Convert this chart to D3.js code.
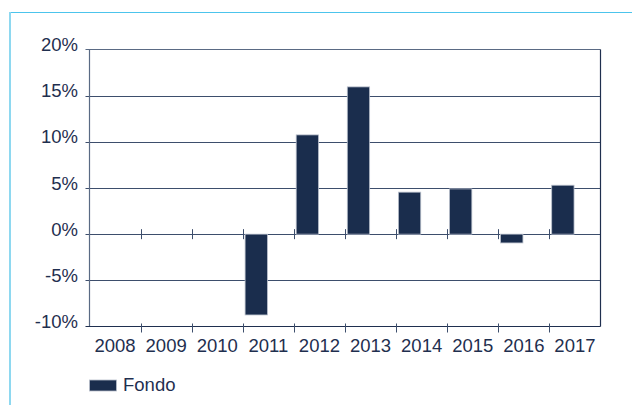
<!DOCTYPE html>
<html><head><meta charset="utf-8">
<script src="https://cdn.jsdelivr.net/npm/d3@7"></script>
<style>body{margin:0;background:#fff}svg{display:block}text{font-family:"Liberation Sans",Arial,sans-serif;fill:#1f2f4f}</style>
</head><body><svg id="c" width="632" height="405"></svg>
<script>
const years = ["2008","2009","2010","2011","2012","2013","2014","2015","2016","2017"];
const fondo = [null,null,null,-8.75,10.75,15.95,4.55,4.9,-0.95,5.3];
const yTicks = [-10,-5,0,5,10,15,20];
const seriesName = "Fondo";

const svg = d3.select("#c");
const L=89.5,R=600.5,T=49.5,B=326.5;
const x = d3.scaleBand().domain(years).range([L,R]).padding(0);
const y = d3.scaleLinear().domain([-10,20]).range([B,T]);

// outer light-blue frame
svg.append("line").attr("x1",9).attr("x2",632).attr("y1",12.5).attr("y2",12.5).attr("stroke","#4cc4ec").attr("stroke-width",1.2);
svg.append("line").attr("x1",10).attr("x2",10).attr("y1",12).attr("y2",405).attr("stroke","#8ed8f0").attr("stroke-width",2);

// gridlines
const grid = svg.append("g");
yTicks.filter(v=>v>-10 && v<20).forEach(v=>{
  grid.append("line").attr("x1",L-4).attr("x2",R).attr("y1",Math.round(y(v))+0.5).attr("y2",Math.round(y(v))+0.5)
    .attr("stroke", "#3d4e6c").attr("stroke-width",1.2);
});
// frame
svg.append("line").attr("x1",L-4).attr("x2",R).attr("y1",T).attr("y2",T).attr("stroke","#5a6a84").attr("stroke-width",1.2);
svg.append("line").attr("x1",L).attr("x2",L).attr("y1",T).attr("y2",B).attr("stroke","#5a6a84").attr("stroke-width",1.2);
svg.append("line").attr("x1",R).attr("x2",R).attr("y1",T).attr("y2",B).attr("stroke","#1f2f4f").attr("stroke-width",1.2);
svg.append("line").attr("x1",L-4).attr("x2",R).attr("y1",B).attr("y2",B).attr("stroke","#1f2f4f").attr("stroke-width",1.2);

// y labels
svg.append("g").selectAll("text").data(yTicks).join("text")
  .attr("x",78).attr("y",d=>y(d)+1.5).attr("text-anchor","end").attr("font-size",18.5).text(d=>d+"%");

// bars
const bw = x.bandwidth();
svg.append("g").selectAll("rect").data(years.map((yr,i)=>({yr,v:fondo[i]})).filter(d=>d.v!=null)).join("rect")
  .attr("x",d=>x(d.yr)+bw*0.045).attr("width",bw*0.437)
  .attr("y",d=>y(Math.max(0,d.v))).attr("height",d=>Math.abs(y(d.v)-y(0)))
  .attr("fill","#1a2d4d").attr("stroke","#b8bfcb").attr("stroke-width",0.8);

// category ticks on zero line and bottom
const bounds = years.slice(1).map(d=>x(d));
svg.append("g").selectAll("line").data(bounds).join("line")
  .attr("x1",d=>Math.round(d)+0.5).attr("x2",d=>Math.round(d)+0.5).attr("y1",y(0)-5).attr("y2",y(0)+5).attr("stroke","#3d4e6c");
svg.append("g").selectAll("line").data(bounds).join("line")
  .attr("x1",d=>Math.round(d)+0.5).attr("x2",d=>Math.round(d)+0.5).attr("y1",B-3).attr("y2",B+6).attr("stroke","#3d4e6c");

// x labels
svg.append("g").selectAll("text").data(years).join("text")
  .attr("x",d=>x(d)+bw/2).attr("y",351.5).attr("text-anchor","middle").attr("font-size",18.5).text(d=>d);

// legend
svg.append("rect").attr("x",89.5).attr("y",380).attr("width",27).attr("height",11).attr("fill","#1a2d4d").attr("stroke","#b8bfcb").attr("stroke-width",0.8);
svg.append("text").attr("x",123).attr("y",391).attr("font-size",18.5).text(seriesName);
</script></body></html>
